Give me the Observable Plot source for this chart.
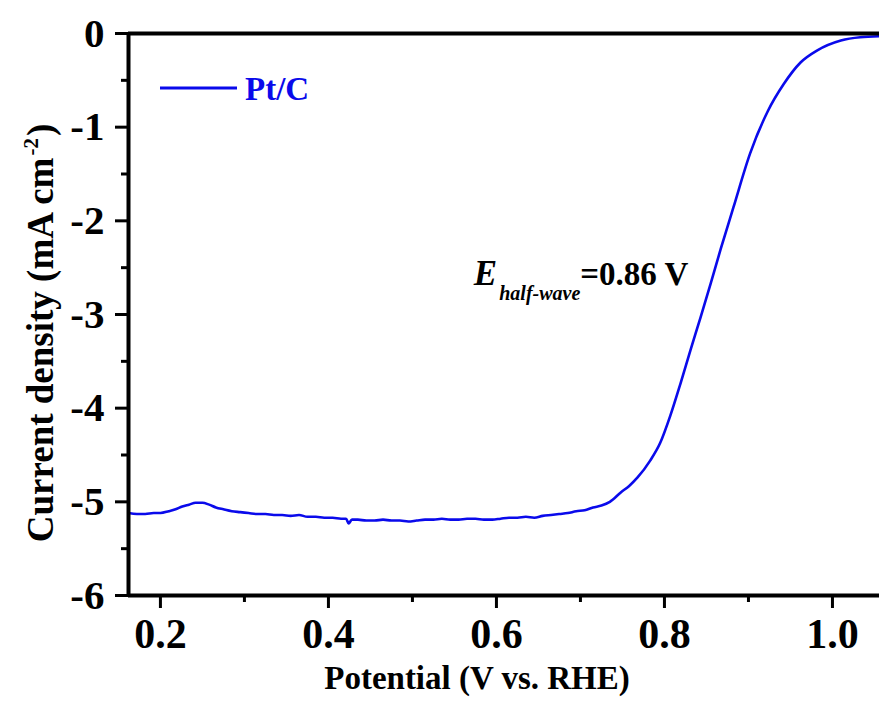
<!DOCTYPE html>
<html><head><meta charset="utf-8">
<script src="https://cdn.jsdelivr.net/npm/d3@7"></script>
<script src="https://cdn.jsdelivr.net/npm/@observablehq/plot@0.6"></script>
<style>
html,body{margin:0;padding:0;background:#fff}
svg{display:block}
#chart svg, #chart svg text { font-family: "Liberation Serif", "DejaVu Serif", serif !important; }
</style>
</head><body><div id="chart"></div>
<script>
// ---- data ----
const potential = [0.162,0.172,0.182,0.192,0.20,0.21,0.218,0.226,0.234,0.242,0.25,0.258,0.266,0.275,0.285,0.295,0.305,0.315,0.325,0.335,0.345,0.355,0.365,0.375,0.385,0.395,0.405,0.415,0.421,0.424,0.428,0.435,0.445,0.455,0.465,0.475,0.485,0.495,0.505,0.515,0.525,0.535,0.545,0.555,0.565,0.575,0.585,0.595,0.605,0.615,0.625,0.635,0.645,0.655,0.665,0.675,0.685,0.695,0.705,0.715,0.725,0.735,0.748,0.758,0.768,0.783,0.795,0.807,0.819,0.831,0.843,0.855,0.867,0.882,0.902,0.923,0.942,0.962,0.982,1.010,1.033,1.056];
const current = [-5.12,-5.13,-5.13,-5.12,-5.12,-5.10,-5.08,-5.05,-5.03,-5.01,-5.01,-5.03,-5.06,-5.08,-5.10,-5.11,-5.12,-5.13,-5.13,-5.14,-5.14,-5.15,-5.14,-5.16,-5.16,-5.17,-5.17,-5.18,-5.18,-5.23,-5.19,-5.19,-5.20,-5.20,-5.19,-5.20,-5.20,-5.21,-5.20,-5.19,-5.19,-5.18,-5.19,-5.19,-5.18,-5.18,-5.19,-5.19,-5.18,-5.17,-5.17,-5.16,-5.17,-5.15,-5.14,-5.13,-5.12,-5.10,-5.09,-5.06,-5.04,-5.00,-4.90,-4.83,-4.74,-4.56,-4.37,-4.08,-3.74,-3.38,-3.03,-2.67,-2.30,-1.86,-1.28,-0.83,-0.54,-0.31,-0.18,-0.075,-0.04,-0.03];
const seriesName = "Pt/C";
const eHalfWave = 0.86;
const annotationY = -2.69;
const xMajorTicks = [0.2, 0.4, 0.6, 0.8, 1.0];
const xMinorTicks = [0.3, 0.5, 0.7, 0.9];
const yMajorTicks = [0, -1, -2, -3, -4, -5, -6];
const yMinorTicks = [-0.5, -1.5, -2.5, -3.5, -4.5, -5.5];
const xDomain = [0.162, 1.056];
const yDomain = [-6, 0];
const xTitle = "Potential (V vs. RHE)";

const data = potential.map((p, i) => ({potential: p, current: current[i]}));
const FONT = '"Liberation Serif","DejaVu Serif",serif';
const BLUE = "#0a0aeb";

function legendMark(index, scales, values, dim) {
  const g = d3.create("svg:g");
  const x0 = dim.marginLeft + 32, y0 = dim.marginTop + 55;
  g.append("line").attr("x1", x0).attr("x2", x0 + 77).attr("y1", y0).attr("y2", y0)
    .attr("stroke", BLUE).attr("stroke-width", 3);
  g.append("text").attr("x", x0 + 85).attr("y", y0).attr("dy", "0.35em")
    .attr("text-anchor", "start")
    .attr("fill", BLUE).attr("font-family", FONT).attr("font-weight", "bold").attr("font-size", 33)
    .text(seriesName);
  return g.node();
}

function annotationMark(index, scales, values, dim) {
  const sx = scales.x, sy = scales.y;
  const t = d3.create("svg:text")
    .attr("x", sx(eHalfWave) - 26).attr("y", sy(annotationY))
    .attr("text-anchor", "end").attr("font-family", FONT).attr("font-weight", "bold")
    .attr("font-size", 33).attr("fill", "black");
  t.append("tspan").attr("font-style", "italic").attr("font-size", 35).text("E");
  t.append("tspan").attr("font-style", "italic").attr("font-size", 20).attr("dx", 2).attr("dy", 15).text("half-wave");
  t.append("tspan").attr("dy", -15).text("=" + eHalfWave.toFixed(2) + " V");
  return t.node();
}

function yTitleMark(index, scales, values, dim) {
  const cy = 333, cx = 40;
  const t = d3.create("svg:text")
    .attr("transform", `translate(${cx},${cy}) rotate(-90)`)
    .attr("text-anchor", "middle").attr("dy", "0.35em")
    .attr("font-family", FONT).attr("font-weight", "bold").attr("font-size", 37).attr("fill", "black");
  t.append("tspan").text("Current density (mA cm");
  t.append("tspan").attr("font-size", 21).attr("dx", 2).attr("dy", -15).text("-2");
  t.append("tspan").attr("dx", 2).attr("dy", 15).text(")");
  return t.node();
}

const chart = Plot.plot({
  width: 879,
  height: 705,
  marginLeft: 128,
  marginTop: 33,
  marginBottom: 110,
  marginRight: 0,
  style: {fontFamily: FONT, background: "#fff", overflow: "visible"},
  x: {domain: xDomain, label: null},
  y: {domain: yDomain, label: null},
  marks: [
    Plot.axisX(xMinorTicks, {anchor: "bottom", tickSize: 7, strokeWidth: 3, tickFormat: () => "", label: null}),
    Plot.axisX(xMajorTicks, {anchor: "bottom", tickSize: 13, tickPadding: 10, strokeWidth: 3,
      fontSize: 42, fontWeight: "bold", fill: "black", tickFormat: d3.format(".1f"), label: null}),
    Plot.axisY(yMinorTicks, {anchor: "left", tickSize: 7, strokeWidth: 3, tickFormat: () => "", label: null}),
    Plot.axisY(yMajorTicks, {anchor: "left", tickSize: 13, tickPadding: 11, strokeWidth: 3,
      fontSize: 41, fontWeight: "bold", fill: "black", tickFormat: d => String(d), label: null}),
    Plot.line(data, {x: "potential", y: "current", stroke: BLUE, strokeWidth: 2.6, curve: "monotone-x"}),
    Plot.ruleY([yDomain[1]], {stroke: "black", strokeWidth: 4}),
    Plot.ruleY([yDomain[0]], {stroke: "black", strokeWidth: 4}),
    Plot.ruleX([xDomain[0]], {stroke: "black", strokeWidth: 4}),
    Plot.text([xTitle], {frameAnchor: "bottom", dx: -27, dy: 93, fontSize: 33, fontWeight: "bold", fill: "black"}),
    yTitleMark,
    legendMark,
    annotationMark
  ]
});
document.getElementById("chart").appendChild(chart);
</script>
</body></html>
